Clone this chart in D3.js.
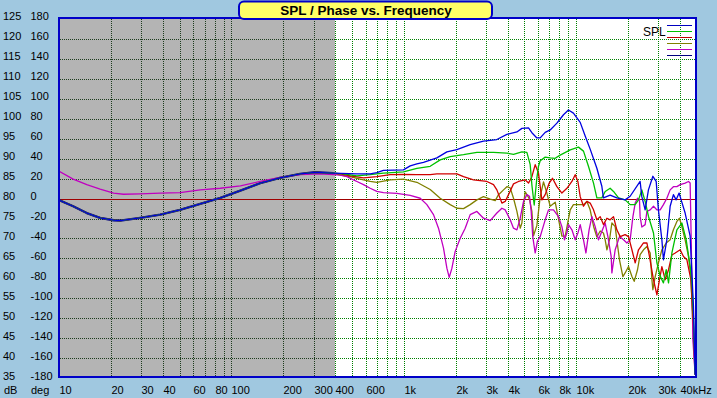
<!DOCTYPE html>
<html>
<head>
<meta charset="utf-8">
<script src="https://cdn.jsdelivr.net/npm/d3@7"></script>
<style>
  html, body { margin: 0; padding: 0; background: #A0C8E0; }
  svg { display: block; }
  text { font-family: "Liberation Sans", Arial, sans-serif; fill: #000; }
</style>
</head>
<body>
<svg id="chart" width="717" height="398"></svg>
<script>
// ---- data (frequency in Hz, level in dB) ----
const baseLow = [
  [10, 79.7], [12, 78.2], [14.4, 76.5], [17.2, 75.3], [20.6, 74.7], [22.5, 74.6], [29.4, 75.3],
  [38.4, 76.1], [50, 77.3], [65.5, 78.8], [85.7, 80.3], [112, 82.1], [146, 84], [190, 85.3],
  [249, 86.3], [304, 86.7], [387, 86.5]
];

const blueHigh = [
  [531, 86.3], [634, 86.3], [693, 86.6], [757, 87.2], [989, 87.3], [1082, 88.3], [1183, 88.8],
  [1292, 89.2], [1545, 90.3], [1766, 91.8], [2018, 92.4], [2411, 93.6], [2879, 94.5], [3443, 94.9],
  [3936, 96.2], [4500, 96.8], [4810, 97.7], [5253, 97.8], [5497, 96.6], [5876, 95.3], [6142, 95.3],
  [6565, 96.7], [7020, 97.3], [7677, 99], [8383, 101.1], [8956, 102.3], [9573, 101.5], [10480, 99.2],
  [11200, 95.8], [11970, 92.5], [13090, 87.7], [13990, 83.2], [14290, 80.3], [15630, 81], [17090, 80.3],
  [19100, 79.8], [20420, 80.7], [23330, 84.4], [23870, 80.6], [24950, 77.3], [26070, 82.3], [27660, 85.7],
  [28910, 84.4], [29790, 77.3], [31190, 69.8], [31850, 64.8], [33340, 69.8], [34840, 78.2], [36390, 81.1],
  [37740, 79.8], [39260, 81.5], [40340, 79.8], [42560, 76.5], [45500, 70.7], [47550, 53.2], [48640, 36]
];

const greenHigh = [
  [444, 86.3], [531, 85.8], [634, 86.1], [757, 86.5], [989, 86.8], [1183, 87.7], [1413, 88.2],
  [1615, 89.8], [1846, 90.6], [2205, 91.1], [2637, 91.7], [3292, 91.7], [3936, 91.5], [4300, 91.2],
  [4810, 91.8], [5141, 91.7], [5374, 88.6], [5497, 83.5], [5669, 78.5], [5876, 85.3], [6003, 88.2],
  [6142, 89.6], [6565, 90.5], [7020, 90.3], [7505, 90.2], [8017, 91], [9170, 92.3], [10240, 93],
  [10950, 92], [11700, 88.2], [12520, 84], [13090, 80.3], [13990, 80.3], [14630, 81.9], [15630, 82.7],
  [16350, 81.9], [17480, 80.3], [19100, 79.8], [20420, 78.6], [21840, 78.6], [22830, 79.8], [23870, 82.3],
  [24950, 79.4], [26070, 75.7], [27890, 71.5], [29190, 64], [30500, 60.7], [31850, 59], [33060, 62.3],
  [34090, 59], [35660, 66.5], [38120, 72.3], [40750, 74], [43170, 69.8], [45500, 63.2], [46580, 59],
  [47550, 50.7], [48640, 36]
];

const redHigh = [
  [425, 86.3], [486, 85.8], [580, 85.3], [693, 85.6], [828, 86.1], [989, 86.2], [1183, 86.1],
  [1413, 86.1], [1545, 86.3], [2018, 86.3], [2205, 85.6], [2520, 84.8], [3014, 84.4], [3292, 83.6],
  [3443, 82.3], [3683, 79], [3848, 79.4], [4022, 81.1], [4300, 83.8], [4597, 84.4], [5026, 84.8],
  [5253, 84], [5497, 85.6], [5745, 88.6], [6003, 86.5], [6283, 79.8], [6565, 81.1], [6926, 84],
  [7238, 85.2], [7677, 83.1], [8206, 81.5], [8774, 82.7], [9380, 84.4], [9802, 86.1], [10160, 84.4],
  [10480, 80.6], [10950, 78.2], [11460, 79.4], [11970, 79], [12520, 77.3], [13090, 74.8], [13690, 75.6],
  [14290, 73.6], [14970, 75.2], [15630, 74.8], [16350, 75.6], [17090, 72.3], [17880, 70.6], [19100, 71.1],
  [19980, 70.6], [20910, 67.3], [21840, 64], [22830, 67.3], [24410, 69], [25540, 69], [26440, 65.6],
  [27890, 59.8], [29190, 56], [30220, 59.8], [31190, 63.1], [32620, 59.8], [34090, 62.3], [35660, 66],
  [37270, 66.5], [39830, 67.3], [41640, 65.6], [43570, 64.8], [45960, 59.8], [47550, 48.2], [48640, 36]
];

const oliveHigh = [
  [425, 86], [486, 85.6], [531, 85.2], [580, 84.8], [634, 84.4], [693, 84.2], [828, 84.8], [989, 85],
  [1183, 84.2], [1413, 82.4], [1615, 80.2], [1846, 78.6], [2018, 77.7], [2205, 77.6], [2411, 78.6],
  [2637, 79.8], [2879, 80.6], [3150, 80], [3368, 79.6], [3520, 81.1], [3763, 82.3], [3936, 83.1],
  [4114, 82.8], [4300, 80.2], [4500, 76.9], [4703, 72.7], [4810, 74], [4915, 78.6], [5026, 81.8],
  [5141, 81.1], [5324, 80], [5497, 76.9], [5616, 70.8], [5876, 73.4], [6142, 80.6], [6419, 84.3],
  [6714, 81.5], [7020, 78.2], [7505, 79.2], [7843, 75], [8206, 70.7], [8576, 70.7], [9170, 77.3],
  [9573, 78.6], [10950, 78.6], [11460, 79.4], [11970, 77.3], [12520, 73.2], [13090, 70.5], [13690, 72],
  [14290, 71.5], [14630, 69.8], [14970, 67.3], [15500, 69.8], [16000, 74], [16720, 73.1], [17090, 69.8],
  [17710, 64.8], [18530, 60.6], [19100, 61.5], [19980, 63.1], [20910, 60.6], [21560, 59.4], [22530, 62.3],
  [23330, 66.1], [24410, 67.3], [25540, 68.1], [26690, 66.5], [27310, 59.8], [27660, 57.3], [28530, 60.6],
  [29790, 64], [31190, 67.3], [33060, 69], [34840, 69.8], [36390, 72.3], [38120, 74.4], [39470, 75.2],
  [40750, 73.1], [42560, 69.8], [44510, 65.6], [45960, 60.6], [47550, 44.8], [48640, 36]
];

const magentaSpl = [
  [10, 86.9], [12, 85], [14.4, 83.6], [17.2, 82.5], [20.6, 81.5], [23.5, 81.2], [29.4, 81.3],
  [38.4, 81.5], [50, 81.6], [65.5, 82.3], [85.7, 82.7], [112, 83.3], [146, 84.4], [190, 85.4],
  [249, 86.1], [323, 86.3], [387, 86.1], [425, 86], [465, 85.6], [507, 84.8], [531, 84.4], [580, 83.6],
  [634, 82.7], [693, 81.9], [757, 81.6], [906, 81.4], [1082, 80.9], [1237, 80.2], [1352, 78.6],
  [1477, 76.1], [1579, 72.7], [1688, 67.7], [1766, 62.7], [1822, 60.4], [1889, 62.7], [1973, 66.9],
  [2110, 70.2], [2255, 72.7], [2411, 76.1], [2637, 76.9], [2879, 75.2], [3150, 74.6], [3443, 76.5],
  [3683, 77.7], [3848, 77.3], [4114, 74.8], [4300, 72.7], [4500, 72.3], [4703, 75.2], [4915, 79.4],
  [5141, 81.1], [5324, 80.7], [5446, 76.9], [5560, 70.6], [5745, 66.5], [5924, 69.5], [6142, 70.6],
  [6565, 74.8], [6862, 77.3], [7336, 77.3], [7843, 75.6], [8206, 73.1], [8496, 69.8], [8774, 71.5],
  [8956, 73.6], [9380, 72.3], [9802, 69.8], [10160, 71.5], [10480, 73.6], [10950, 69.8], [11310, 66.5],
  [11800, 72.3], [12250, 75.6], [12800, 73.1], [13380, 69.8], [14110, 72.3], [14630, 74], [15170, 70.6],
  [15850, 65.6], [16000, 61.5], [16720, 67.3], [17710, 70.6], [18690, 69.8], [19560, 69], [20420, 69.8],
  [21190, 75.6], [21840, 79], [22530, 80.2], [23130, 79.8], [23330, 75.6], [23870, 73], [24950, 73.6],
  [25540, 76.9], [26690, 77.3], [27890, 78.2], [29190, 77.3], [30500, 77.3], [31850, 78.6], [33340, 80.2],
  [34840, 82.3], [36390, 83.1], [38120, 83.1], [39830, 83.6], [42560, 84], [44510, 84.4], [45500, 84],
  [46150, 69.8], [47210, 44.8], [48640, 36]
];

const dbLabels = [125, 120, 115, 110, 105, 100, 95, 90, 85, 80, 75, 70, 65, 60, 55, 50, 45, 40, 35];
const degLabels = [180, 160, 140, 120, 100, 80, 60, 40, 20, 0, -20, -40, -60, -80, -100, -120, -140, -160, -180];
const gridFreqs = [20, 30, 40, 50, 60, 70, 80, 90, 100, 200, 300, 400, 500, 600, 700, 800, 900,
  1000, 2000, 3000, 4000, 5000, 6000, 7000, 8000, 9000, 10000, 20000, 30000, 40000];
const freqLabels = [10, 20, 30, 40, 60, 80, 100, 200, 300, 400, 600, 1000, 2000, 3000, 4000, 6000, 8000, 10000, 20000, 30000, 40000];
const freqText = ['10', '20', '30', '40', '60', '80', '100', '200', '300', '400', '600', '1k', '2k', '3k', '4k', '6k', '8k', '10k', '20k', '30k', '40kHz'];
const legendColors = ['#0000C0', '#00C000', '#C00000', '#808000', '#C000C0', '#000080'];
const grayUntil = 400; // Hz

// ---- drawing ----
const svg = d3.select('#chart');
const plot = { x0: 60, y0: 19, x1: 695, y1: 376 };

const x = d3.scaleLog().domain([10, 50000]).range([59.5, 697.2]);
const y = d3.scaleLinear().domain([35, 125]).range([378.8, 19.3]);
const px = v => Math.floor(v) + 0.5;

const defs = svg.append('defs');
defs.append('clipPath').attr('id', 'clipAll').append('rect')
  .attr('x', plot.x0).attr('y', plot.y0).attr('width', plot.x1 - plot.x0).attr('height', plot.y1 - plot.y0);
const grayX = Math.floor(x(grayUntil));
defs.append('clipPath').attr('id', 'clipGray').append('rect')
  .attr('x', plot.x0).attr('y', plot.y0).attr('width', grayX - plot.x0).attr('height', plot.y1 - plot.y0);
defs.append('clipPath').attr('id', 'clipWhite').append('rect')
  .attr('x', grayX).attr('y', plot.y0).attr('width', plot.x1 - grayX).attr('height', plot.y1 - plot.y0);

// plot background
svg.append('rect').attr('x', plot.x0).attr('y', plot.y0)
  .attr('width', plot.x1 - plot.x0).attr('height', plot.y1 - plot.y0).attr('fill', '#FFFFFF');
svg.append('rect').attr('x', plot.x0).attr('y', plot.y0)
  .attr('width', grayX - plot.x0).attr('height', plot.y1 - plot.y0).attr('fill', '#B4B4B4');

// grid, drawn twice: dark over the grey band, green over the white part
function drawGrid(clipId, color) {
  const g = svg.append('g').attr('clip-path', `url(#${clipId})`)
    .attr('stroke', color).attr('stroke-width', 1).attr('stroke-dasharray', '1,1')
    .attr('shape-rendering', 'crispEdges');
  g.selectAll('.hgrid')
    .data(dbLabels.filter(d => d !== 80 && d !== 125 && d !== 35))
    .enter().append('line')
    .attr('x1', plot.x0).attr('x2', plot.x1)
    .attr('y1', d => px(y(d))).attr('y2', d => px(y(d)));
  g.selectAll('.vgrid')
    .data(gridFreqs)
    .enter().append('line')
    .attr('y1', plot.y0).attr('y2', plot.y1)
    .attr('x1', d => px(x(d))).attr('x2', d => px(x(d)));
}
drawGrid('clipGray', '#1E3C1E');
drawGrid('clipWhite', '#008000');

// 80 dB / 0 deg reference line
svg.append('line')
  .attr('x1', plot.x0).attr('x2', plot.x1)
  .attr('y1', px(y(80))).attr('y2', px(y(80)))
  .attr('stroke', '#A00000').attr('stroke-width', 1).attr('shape-rendering', 'crispEdges');

// curves (navy trace only differs below 400 Hz, where it sits under the others)
const series = [
  { color: '#000080', width: 2.4, points: baseLow },
  { color: '#808000', width: 1.3, points: baseLow.concat(oliveHigh) },
  { color: '#C000C0', width: 1.3, points: magentaSpl },
  { color: '#D00000', width: 1.3, points: baseLow.concat(redHigh) },
  { color: '#00C000', width: 1.3, points: baseLow.concat(greenHigh) },
  { color: '#0000E0', width: 1.3, points: baseLow.concat(blueHigh) }
];

const line = d3.line().x(d => x(d[0])).y(d => y(d[1]));
const curves = svg.append('g').attr('clip-path', 'url(#clipAll)');
curves.selectAll('path')
  .data(series)
  .enter().append('path')
  .attr('d', d => line(d.points))
  .attr('fill', 'none')
  .attr('stroke', d => d.color)
  .attr('stroke-width', d => d.width)
  .attr('stroke-linejoin', 'round');

// frame
svg.append('rect').attr('x', 59).attr('y', 18).attr('width', 637).attr('height', 359)
  .attr('fill', 'none').attr('stroke', '#0000C8').attr('stroke-width', 2);

// y labels
const labels = svg.append('g').style('font-size', '11px');
labels.selectAll('.db')
  .data(dbLabels)
  .enter().append('text')
  .attr('x', 3).attr('y', d => y(d) + 1)
  .text(d => d);
labels.selectAll('.deg')
  .data(degLabels)
  .enter().append('text')
  .attr('x', 30.5).attr('y', (d, i) => y(dbLabels[i]) + 1)
  .text(d => d);
labels.append('text').attr('x', 4).attr('y', 393.5).text('dB');
labels.append('text').attr('x', 31).attr('y', 393.5).text('deg');

// x labels
labels.selectAll('.freq')
  .data(freqLabels)
  .enter().append('text')
  .attr('x', d => Math.floor(x(d)) + 0.5)
  .attr('y', 393.5)
  .text((d, i) => freqText[i]);

// legend
const legend = svg.append('g');
legend.append('text').attr('x', 643).attr('y', 36).style('font-size', '12px').text('SPL');
legend.selectAll('line')
  .data(legendColors)
  .enter().append('line')
  .attr('x1', 667).attr('x2', 692)
  .attr('y1', (d, i) => 25.5 + i * 6).attr('y2', (d, i) => 25.5 + i * 6)
  .attr('stroke', d => d).attr('stroke-width', 1.2).attr('shape-rendering', 'crispEdges');

// title box
svg.append('rect').attr('x', 239).attr('y', 1.5).attr('width', 253).attr('height', 17.5)
  .attr('rx', 5).attr('ry', 5)
  .attr('fill', '#FFFF66').attr('stroke', '#0000C8').attr('stroke-width', 2);
svg.append('text').attr('x', 366).attr('y', 15)
  .attr('text-anchor', 'middle')
  .style('font-size', '13.5px').style('font-weight', 'bold')
  .text('SPL / Phase vs. Frequency');
</script>
</body>
</html>
